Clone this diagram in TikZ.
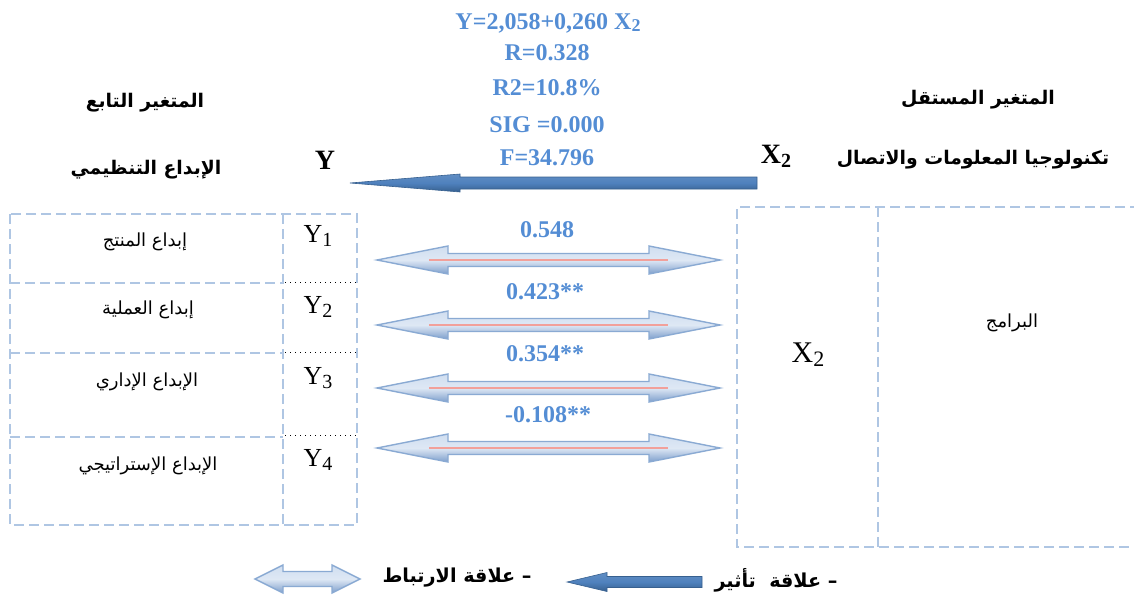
\documentclass[tikz,border=0pt]{standalone}
\usepackage{fontspec}
\setmainfont{Liberation Serif}
\newfontfamily\arabicfont[Script=Arabic]{DejaVu Sans}
\TeXXeTstate=1
\usetikzlibrary{calc}
\definecolor{statblue}{HTML}{548DD4}
\definecolor{mainblue}{HTML}{4F81BD}
\definecolor{maindark}{HTML}{37608F}
\definecolor{boxline}{HTML}{AFC6E3}
\definecolor{corrtop}{HTML}{D0DEF0}
\definecolor{corrbot}{HTML}{7E9FCC}
\definecolor{corrline}{HTML}{8AAAD3}
\definecolor{redline}{HTML}{F2A09A}
\newcommand\leftarrowpath[6]{%
  \path[#6] (#2) -- ++(#3,-#4) -- ++(0,#4-#5) -- ($(#1)+(0,-#5)$) -- ++(0,2*#5)
    -- ($(#2)+(#3,#5)$) -- ++(0,#4-#5) -- cycle;}
\newcommand\dblarrowpath[6]{%
  \path[#6] (#1) -- ++(#3,-#4) -- ++(0,#4-#5) -- ($(#2)+(-#3,-#5)$) -- ++(0,#5-#4)
    -- (#2) -- ++(-#3,#4) -- ++(0,#5-#4) -- ($(#1)+(#3,#5)$) -- ++(0,#4-#5) -- cycle;}
\tikzset{
  stat/.style={text=statblue, font=\fontsize{12}{14}\selectfont\bfseries, inner sep=0pt},
  arhead/.style={font=\arabicfont\fontsize{9.4}{12}\selectfont\bfseries, inner sep=0pt},
  arleg/.style={font=\arabicfont\fontsize{9.6}{12}\selectfont\bfseries, inner sep=0pt},
  arlab/.style={font=\arabicfont\fontsize{9}{11}\selectfont, inner sep=0pt},
  ylab/.style={font=\fontsize{13}{15}\selectfont, inner sep=0pt},
  varhead/.style={font=\fontsize{14}{16}\selectfont\bfseries, inner sep=0pt},
  dashbox/.style={draw=boxline, line width=1.2pt, dash pattern=on 5pt off 2.5pt},
  dotline/.style={draw=black, line width=0.5pt, dotted},
  effect/.style={top color=mainblue!90!white, bottom color=maindark, middle color=mainblue, draw=maindark, line width=0.3pt},
  corr/.style={top color=corrtop, bottom color=corrbot, middle color=corrtop!70!white, draw=corrline, line width=0.7pt},
}
\begin{document}
\begin{tikzpicture}[x=0.5pt,y=-0.5pt]
\useasboundingbox (0,0) rectangle (1134,610);

% statistics block
\node[stat] (s1) at (548,23) {Y=2,058+0,260 X\raisebox{-0.25ex}{\fontsize{9}{10}\selectfont 2}};
\node[stat] (s2) at (547,53) {R=0.328};
\node[stat] (s3) at (547,88) {R2=10.8\%};
\node[stat] (s4) at (547,125) {SIG =0.000};
\node[stat] (s5) at (547,158) {F=34.796};

% headings
\node[arhead] (depT) at (145,103) {\beginR المتغير التابع\endR};
\node[arhead] (depN) at (146,170) {\beginR الإبداع التنظيمي\endR};
\node[varhead] (yhead) at (325,160) {Y};
\node[arhead] (indT) at (978,100) {\beginR المتغير المستقل\endR};
\node[arhead] (indN) at (973,160) {\beginR تكنولوجيا المعلومات والاتصال\endR};
\node[varhead] (xhead) at (776,156) {X\raisebox{-0.3ex}{\fontsize{10}{11}\selectfont 2}};

% main effect arrow
\coordinate (mTail) at (757,183);
\coordinate (mTip) at (350,183);
\leftarrowpath{mTail}{mTip}{110}{9}{6}{effect}

% left box (dependent variable)
\coordinate (lbTL) at (10,214);
\coordinate (lbBR) at (357,525);
\draw[dashbox] (lbTL) rectangle (lbBR);
\draw[dashbox] (283,214) -- (283,525);
\draw[dashbox] (10,283) -- (283,283);
\draw[dashbox] (10,353) -- (283,353);
\draw[dashbox] (10,437) -- (283,437);
\draw[dotline] (285,282) -- (357,282);
\draw[dotline] (285,352) -- (357,352);
\draw[dotline] (285,435) -- (357,435);

\node[ylab] (y1) at (318,236) {Y\raisebox{-0.3ex}{\fontsize{10}{11}\selectfont 1}};
\node[ylab] (y2) at (318,307) {Y\raisebox{-0.3ex}{\fontsize{10}{11}\selectfont 2}};
\node[ylab] (y3) at (318,378) {Y\raisebox{-0.3ex}{\fontsize{10}{11}\selectfont 3}};
\node[ylab] (y4) at (318,460) {Y\raisebox{-0.3ex}{\fontsize{10}{11}\selectfont 4}};
\node[arlab] (d1) at (145,242) {\beginR إبداع المنتج\endR};
\node[arlab] (d2) at (148,310) {\beginR إبداع العملية\endR};
\node[arlab] (d3) at (147,382) {\beginR الإبداع الإداري\endR};
\node[arlab] (d4) at (148,466) {\beginR الإبداع الإستراتيجي\endR};

% right box (independent variable)
\draw[dashbox] (1140,207) -- (737,207) -- (737,547) -- (1140,547);
\draw[dashbox] (878,207) -- (878,547);
\node[font=\fontsize{15}{17}\selectfont, inner sep=0pt] (x2) at (808,355) {X\raisebox{-0.3ex}{\fontsize{11}{12}\selectfont 2}};
\node[arlab] (prog) at (1012,323) {\beginR البرامج\endR};

% correlation arrows
\foreach \i/\yy in {1/260, 2/325, 3/388, 4/448}{
  \coordinate (c\i L) at (377,\yy);
  \coordinate (c\i R) at (720,\yy);
  \dblarrowpath{c\i L}{c\i R}{71}{14}{6.5}{corr}
  \draw[redline, line width=0.6pt] ($(c\i L)+(52,0)$) -- ($(c\i R)+(-52,0)$);
}
\node[stat] (r1) at (547,230) {0.548};
\node[stat] (r2) at (545,292) {0.423**};
\node[stat] (r3) at (545,354) {0.354**};
\node[stat] (r4) at (548,415) {\beginL -0.108**\endL};

% legend
\node[arleg] (legEff) at (776,580) {\beginR – علاقة\ \ تأثير\endR};
\coordinate (lgTail) at (702,582);
\coordinate (lgTip) at (567,582);
\leftarrowpath{lgTail}{lgTip}{40}{9.5}{5.5}{effect}
\node[arleg] (legCorr) at (457,578) {\beginR – علاقة الارتباط\endR};
\coordinate (lcL) at (255,579);
\coordinate (lcR) at (360,579);
\dblarrowpath{lcL}{lcR}{28}{14}{7.5}{corr}
\end{tikzpicture}
\end{document}
